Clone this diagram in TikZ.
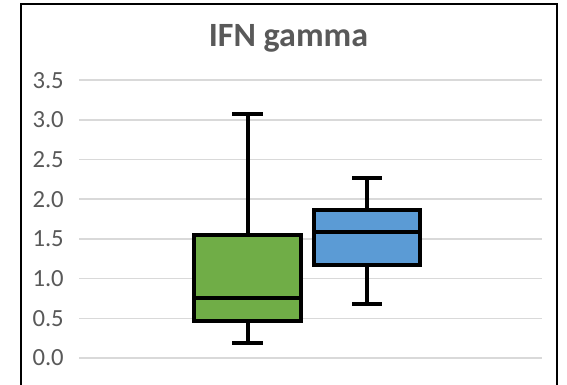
\documentclass[tikz,border=0pt]{standalone}
\usepackage{fontspec}
\setmainfont{Carlito}

\definecolor{boxgreen}{HTML}{70AD47}
\definecolor{boxblue}{HTML}{5B9BD5}
\definecolor{txtgray}{HTML}{595959}
\definecolor{gridgray}{HTML}{D9D9D9}

\begin{document}
\begin{tikzpicture}[
  x=0.75pt, y=0.75pt,
  font=\fontsize{18.5}{20}\selectfont,
  % Frame and Grid Styles
  frame/.style={draw=black, line width=1.1pt},
  gridline/.style={draw=gridgray, line width=1.1pt},
  % Label Styles
  ticklbl/.style={anchor=east, text=txtgray, inner sep=0pt},
  charttitle/.style={anchor=base, text=txtgray, inner sep=0pt, font=\fontsize{25.5}{28}\selectfont\bfseries},
  % Box Styles
  box_green/.style={draw=black, line width=3pt, fill=boxgreen},
  box_blue/.style={draw=black, line width=3pt, fill=boxblue},
  whisker/.style={draw=black, line width=3pt}
]
\useasboundingbox (0,0) rectangle (567,385);

% ================= FRAME =================
\draw[frame] (21,-5) -- (21,381) -- (557,381) -- (557,-5);

% ================= TITLE =================
\node[charttitle] (title) at (288.5,338) {IFN gamma};

% ================= AXIS =================
\begin{scope}[yshift=20.25pt, y=59.55pt]
% Grid lines
\draw[gridline] (79,0.0) -- (542,0.0);
\draw[gridline] (79,0.5) -- (542,0.5);
\draw[gridline] (79,1.0) -- (542,1.0);
\draw[gridline] (79,1.5) -- (542,1.5);
\draw[gridline] (79,2.0) -- (542,2.0);
\draw[gridline] (79,2.5) -- (542,2.5);
\draw[gridline] (79,3.0) -- (542,3.0);
\draw[gridline] (79,3.5) -- (542,3.5);

% Tick labels
\node[ticklbl] (y00) at (64,0.0) {0.0};
\node[ticklbl] (y05) at (64,0.5) {0.5};
\node[ticklbl] (y10) at (64,1.0) {1.0};
\node[ticklbl] (y15) at (64,1.5) {1.5};
\node[ticklbl] (y20) at (64,2.0) {2.0};
\node[ticklbl] (y25) at (64,2.5) {2.5};
\node[ticklbl] (y30) at (64,3.0) {3.0};
\node[ticklbl] (y35) at (64,3.5) {3.5};

% ================= BOX PLOTS =================

% --- Green series ---
\draw[whisker] (247.5,1.55) -- (247.5,3.07);
\draw[whisker] (232,3.07) -- (263,3.07);
\draw[whisker] (247.5,0.466) -- (247.5,0.19);
\draw[whisker] (232,0.19) -- (263,0.19);
\draw[box_green] (194,0.466) rectangle (301,1.55);
\draw[whisker] (194,0.756) -- (301,0.756);

% --- Blue series ---
\draw[whisker] (367,1.86) -- (367,2.27);
\draw[whisker] (352,2.27) -- (382,2.27);
\draw[whisker] (367,1.17) -- (367,0.68);
\draw[whisker] (352,0.68) -- (382,0.68);
\draw[box_blue] (314,1.17) rectangle (420,1.86);
\draw[whisker] (314,1.59) -- (420,1.59);
\end{scope}

\end{tikzpicture}
\end{document}
